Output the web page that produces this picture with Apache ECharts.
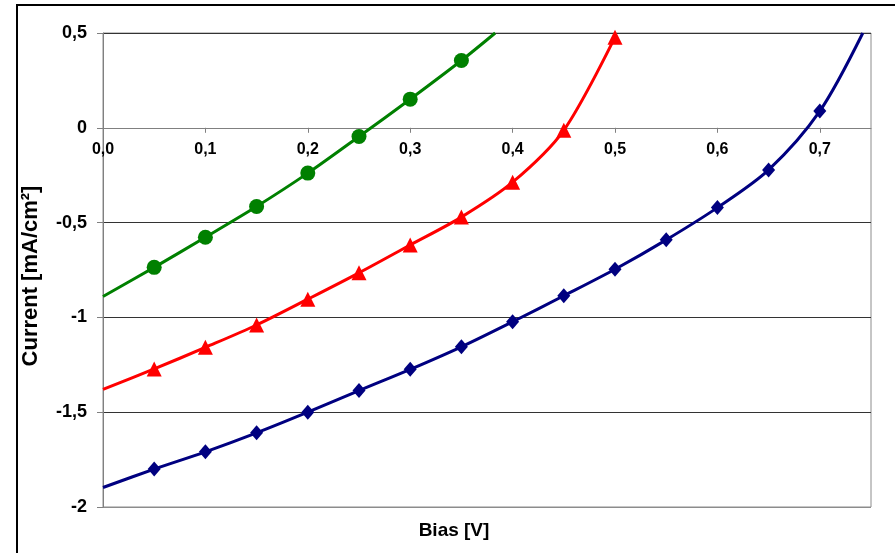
<!DOCTYPE html>
<html>
<head>
<meta charset="utf-8">
<script src="https://cdn.jsdelivr.net/npm/echarts@6/dist/echarts.min.js"></script>
<style>
html,body{margin:0;padding:0;background:#fff;}
#chart{width:895px;height:553px;}
</style>
</head>
<body>
<div id="chart"></div>
<script>
// Bias values (V) where markers are drawn
const biasPoints = [0.05, 0.10, 0.15, 0.20, 0.25, 0.30, 0.35, 0.40, 0.45, 0.50, 0.55, 0.60, 0.65, 0.70];
// Current density (mA/cm²) at the marker points
const greenCurrent = [-0.736, -0.577, -0.415, -0.239, -0.046, 0.151, 0.355];
const redCurrent   = [-1.272, -1.158, -1.040, -0.904, -0.765, -0.618, -0.471, -0.287, -0.013, 0.478];
const blueCurrent  = [-1.800, -1.709, -1.609, -1.500, -1.386, -1.274, -1.155, -1.023, -0.886, -0.746, -0.591, -0.421, -0.222, 0.088];
// Curve points without markers (start at 0 V, end where the curve leaves the plot)
const greenCurveStart = [0, -0.890];
const greenCurveEnd   = [0.383, 0.5];
const redCurveStart   = [0, -1.380];
const blueCurveStart  = [0, -1.897];
const blueCurveEnd    = [0.742, 0.5];
// Axis ticks
const xTicks = [0, 0.1, 0.2, 0.3, 0.4, 0.5, 0.6, 0.7];
const yTicks = [-2, -1.5, -1, -0.5, 0, 0.5];

function buildData(start, values, end) {
  const d = [];
  if (start) d.push({ value: start, symbol: 'none' });
  values.forEach((v, i) => d.push({ value: [biasPoints[i], v] }));
  if (end) d.push({ value: end, symbol: 'none' });
  return d;
}

const W = 895, H = 553;
const gridL = 103, gridT = 33, gridR = 24, gridB = 46;
const plotH = H - gridT - gridB;
const yMin = yTicks[0], yMax = yTicks[yTicks.length - 1];
// move the x axis (line, ticks, labels) up to y = 0
const xAxisOffset = -plotH * (0 - yMin) / (yMax - yMin);

const chart = echarts.init(document.getElementById('chart'), null, { renderer: 'canvas' });
const fmt = v => {
  const s = Math.abs(v) < 1e-9 ? '0' : (Math.round(v * 10) / 10).toString();
  return s.replace('.', ',');
};

chart.setOption({
  animation: false,
  backgroundColor: '#ffffff',
  grid: {
    left: gridL, top: gridT, right: gridR, bottom: gridB,
    show: true, borderColor: '#8c8c8c', borderWidth: 1, backgroundColor: 'transparent'
  },
  xAxis: {
    type: 'value', min: 0, max: 0.75, interval: 0.1,
    position: 'bottom', offset: xAxisOffset,
    axisLine: { onZero: false, lineStyle: { color: '#808080', width: 1 } },
    axisTick: { show: true, inside: false, length: 5, lineStyle: { color: '#808080' } },
    splitLine: { show: false },
    axisLabel: {
      showMaxLabel: false, margin: 14,
      color: '#000', fontFamily: 'Liberation Sans, Arial, sans-serif', fontWeight: 'bold', fontSize: 16,
      formatter: v => v.toFixed(1).replace('.', ',')
    }
  },
  yAxis: {
    type: 'value', min: yMin, max: yMax, interval: 0.5,
    axisLine: { show: true, lineStyle: { color: '#808080', width: 1 } },
    axisTick: { show: true, inside: false, length: 6, lineStyle: { color: '#808080' } },
    splitLine: { show: true, lineStyle: { color: ['#8c8c8c', '#333333', '#333333', '#333333', '#333333', '#333333'], width: 1 } },
    axisLabel: {
      margin: 16, color: '#000', fontFamily: 'Liberation Sans, Arial, sans-serif', fontWeight: 'bold', fontSize: 18,
      formatter: fmt
    }
  },
  series: [
    {
      type: 'line', name: 'green', smooth: 0.3,
      data: buildData(greenCurveStart, greenCurrent, greenCurveEnd),
      symbol: 'circle', symbolSize: 15,
      lineStyle: { color: '#008000', width: 3 },
      itemStyle: { color: '#008000' }, z: 3
    },
    {
      type: 'line', name: 'red', smooth: 0.3,
      data: buildData(redCurveStart, redCurrent, null),
      symbol: 'triangle', symbolSize: 15,
      lineStyle: { color: '#ff0000', width: 3 },
      itemStyle: { color: '#ff0000' }, z: 3
    },
    {
      type: 'line', name: 'blue', smooth: 0.3,
      data: buildData(blueCurveStart, blueCurrent, blueCurveEnd),
      symbol: 'diamond', symbolSize: [13, 15],
      lineStyle: { color: '#000080', width: 3 },
      itemStyle: { color: '#000080' }, z: 3
    }
  ],
  graphic: [
    { type: 'line', shape: { x1: 16, y1: 5, x2: 895, y2: 5 }, style: { stroke: '#000', lineWidth: 2 } },
    { type: 'line', shape: { x1: 17, y1: 4, x2: 17, y2: 553 }, style: { stroke: '#000', lineWidth: 2 } },
    {
      type: 'text', x: 31, y: 276, rotation: Math.PI / 2,
      style: { text: 'Current [mA/cm²]', fill: '#000', font: 'bold 22px "Liberation Sans", Arial, sans-serif', align: 'center', verticalAlign: 'middle' }
    },
    {
      type: 'text', x: 454, y: 531,
      style: { text: 'Bias [V]', fill: '#000', font: 'bold 19px "Liberation Sans", Arial, sans-serif', align: 'center', verticalAlign: 'middle' }
    }
  ]
});
</script>
</body>
</html>
